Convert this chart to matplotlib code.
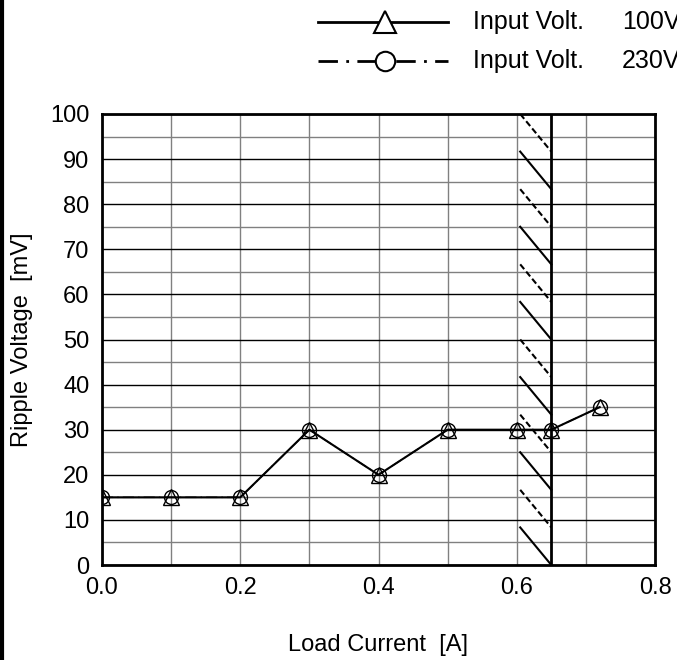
import matplotlib.pyplot as plt
import numpy as np
from matplotlib.lines import Line2D

plt.rcParams['font.family'] = ['Liberation Sans', 'DejaVu Sans']

# data
load_current = [0.0, 0.1, 0.2, 0.3, 0.4, 0.5, 0.6, 0.65, 0.72]
ripple_100v = [15, 15, 15, 30, 20, 30, 30, 30, 35]
ripple_230v = [15, 15, 15, 30, 20, 30, 30, 30, 35]
derate_start = 0.605
derate_limit = 0.65
volts = ['100V', '230V']

W, H = 677, 660
fig = plt.figure(figsize=(W/100, H/100), dpi=100)
ax = fig.add_axes([102/W, 1-565/H, 553/W, 451/H])

ax.set_xlim(0, 0.8)
ax.set_ylim(0, 100)
ax.set_xticks(np.arange(0, 0.81, 0.2))
ax.set_xticks(np.arange(0, 0.81, 0.1), minor=True)
ax.set_yticks(np.arange(0, 101, 10))
ax.set_yticks(np.arange(0, 101, 5), minor=True)
ax.grid(which='minor', axis='both', color='#808080', lw=1.0)
ax.grid(which='major', axis='y', color='black', lw=1.0)
ax.grid(which='major', axis='x', color='#808080', lw=1.0)
ax.tick_params(which='both', length=0, labelsize=17, pad=9)
ax.set_xticklabels(['0.0', '0.2', '0.4', '0.6', '0.8'])
for s in ax.spines.values():
    s.set_linewidth(2)

# hatched derating area
ax.axvline(derate_limit, color='black', lw=2, zorder=3)
n = 12
step = 100 / n
for i in range(n):
    top = 100 - i * step
    ls = '-' if i % 2 else (0, (3, 1.5))
    ax.plot([derate_start, derate_limit], [top, top - step], color='black',
            lw=1.5, ls=ls, zorder=3)

ax.plot(load_current, ripple_100v, color='black', lw=1.5, marker='^', ms=11,
        mfc='none', mec='black', mew=1, zorder=4)
ax.plot(load_current, ripple_230v, color='black', lw=1.0, ls=(0, (8, 3, 1, 3)),
        marker='o', ms=10, mfc='none', mec='black', mew=1, zorder=4)

ax.set_ylabel('Ripple Voltage  [mV]', fontsize=17, va='center')
ax.yaxis.set_label_coords(-80/553, 0.5)
ax.set_xlabel('Load Current  [A]', fontsize=17, va='center')
ax.xaxis.set_label_coords(0.5, -80/451)

# legend drawn by hand
def fx(px):
    return px / W

def fy(py):
    return 1 - py / H

rows = [(22, '-', '^', 16), (61, (0, (7, 3, 1, 3)), 'o', 14)]
for (py, ls, mk, ms), v in zip(rows, volts):
    fig.add_artist(Line2D([fx(318), fx(448)], [fy(py), fy(py)], color='black',
                          lw=2, ls=ls))
    fig.add_artist(Line2D([fx(385)], [fy(py)], marker=mk, ms=ms, mfc='white',
                          mec='black', mew=1.5, ls='none'))
    fig.text(fx(473), fy(py), 'Input Volt.', fontsize=18, va='center', ha='left')
    fig.text(fx(622), fy(py), v, fontsize=18, va='center', ha='left')

# left border
fig.add_artist(Line2D([fx(1.5), fx(1.5)], [0, 1], color='black', lw=3))

fig.savefig('out.png', dpi=100)
